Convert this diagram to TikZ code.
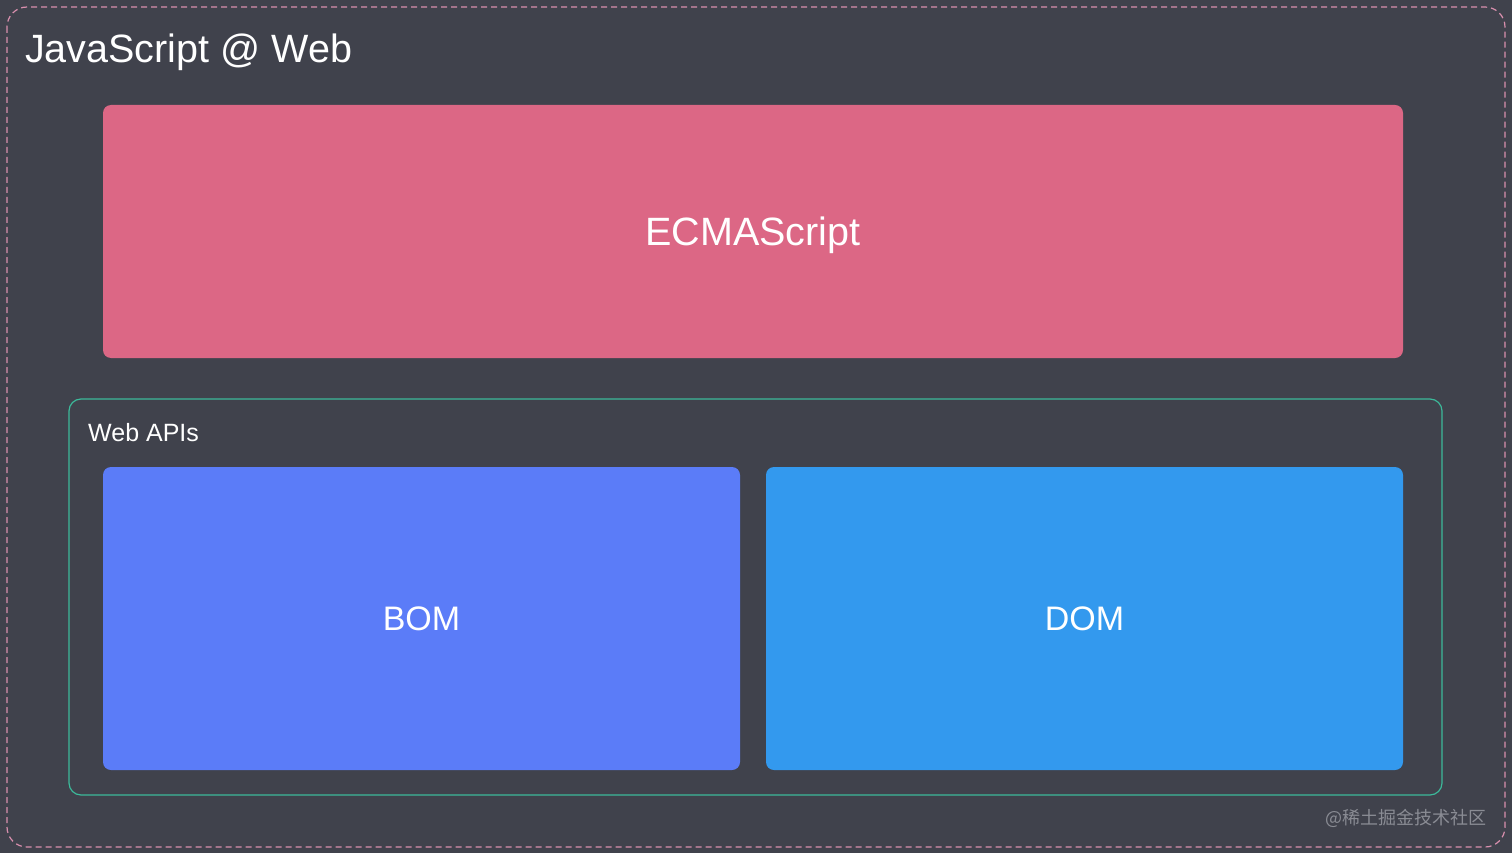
\documentclass[tikz,border=0pt]{standalone}
\usepackage{fontspec}
\setmainfont{Liberation Sans}
\newfontfamily\cjkfont{Noto Sans CJK SC}
\usetikzlibrary{calc}
\definecolor{bgdark}{HTML}{40424C}
\definecolor{borderpink}{HTML}{D98FAE}
\definecolor{ecmapink}{HTML}{DC6785}
\definecolor{apiteal}{HTML}{3CB99A}
\definecolor{bomblue}{HTML}{5B7CF8}
\definecolor{domblue}{HTML}{3399EE}
\definecolor{markgrey}{HTML}{8A8C94}
\tikzset{
  block/.style={fill=#1, draw=none, rounded corners=8pt, text=white, text depth=0pt},
  label/.style={text=white, anchor=base west, inner sep=0pt}
}

\begin{document}
\begin{tikzpicture}[x=1pt, y=-1pt]
				%%%%% START %%%%%
				\fill[bgdark] (0, 0) rectangle (1512, 853);
				\useasboundingbox (0, 0) rectangle (1512, 853);
				
				\draw[borderpink, dash pattern=on 6pt off 4pt, line width=1.2pt, rounded corners=20pt] (7, 7) rectangle (1505, 847);
				\node[label, font=\fontsize{39.5}{47}\selectfont] (title) at (25, 63) {JavaScript @ Web};
				
				\node[block=ecmapink, font=\fontsize{39.5}{47}\selectfont, text height=28.3pt, minimum width=1300pt, minimum height=253pt] (ecma) at (753, 231.5) {ECMAScript};
				
				\draw[apiteal, line width=1.2pt, rounded corners=12pt] (69, 399) rectangle (1442, 795);
				\node[label, font=\fontsize{25}{30}\selectfont] (apis) at (88, 441) {Web APIs};
				
				\node[block=bomblue, font=\fontsize{34}{41}\selectfont, text height=24.3pt, minimum width=637pt, minimum height=303pt] (bom) at (421.5, 618.5) {BOM};
				\node[block=domblue, font=\fontsize{34}{41}\selectfont, text height=24.3pt, minimum width=637pt, minimum height=303pt] (dom) at (1084.5, 618.5) {DOM};
				
				\node[anchor=base east, text=markgrey, inner sep=0pt, font=\cjkfont\fontsize{18}{22}\selectfont] (mark) at (1487, 824) {@稀土掘金技术社区};
				%%%%% END %%%%%
\end{tikzpicture}
\end{document}
